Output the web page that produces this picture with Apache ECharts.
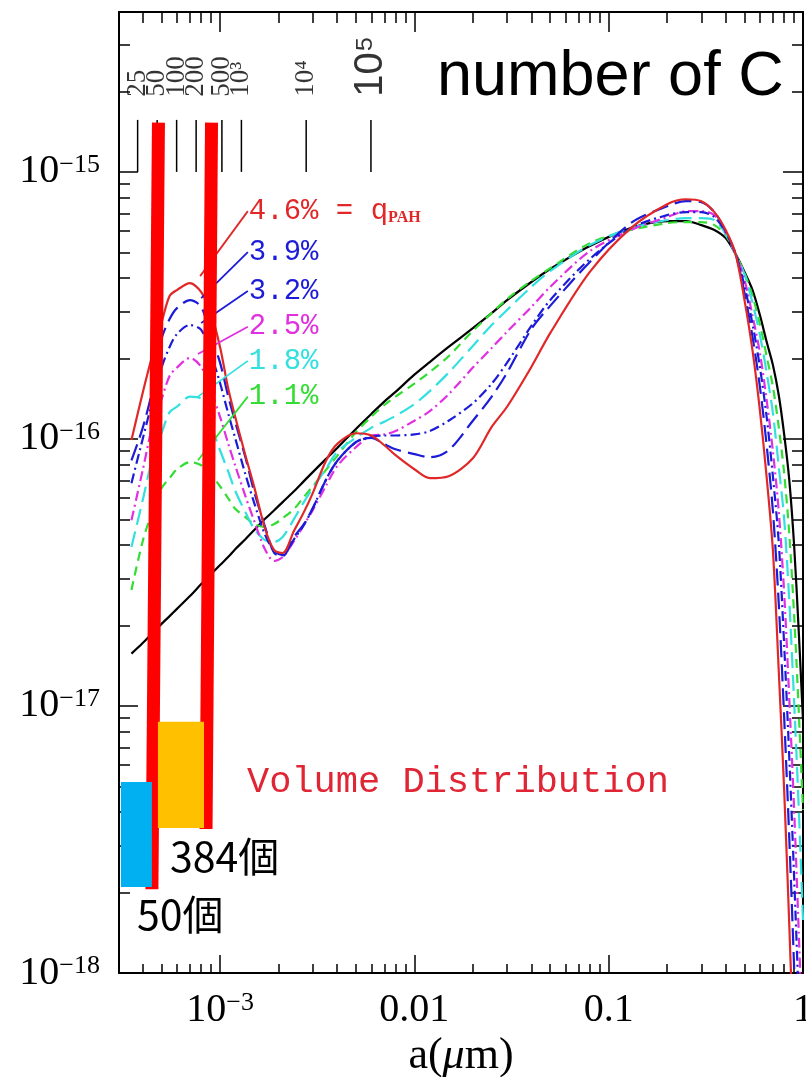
<!DOCTYPE html>
<html>
<head>
<meta charset="utf-8">
<title>Volume Distribution</title>
<script src="https://cdn.jsdelivr.net/npm/echarts@6/dist/echarts.min.js"></script>
<style>
  html, body { margin: 0; padding: 0; background: #fff; }
  #chart { width: 806px; height: 1077px; }
</style>
</head>
<body>
<div id="chart"></div>
<script>
// grain radius a (um), shared by every curve
const radius = [
  3.5e-4, 4e-4, 4.5e-4, 5e-4, 5.5e-4, 6e-4, 7e-4, 8e-4, 9e-4, 1e-3,
  1.1e-3, 1.2e-3, 1.35e-3, 1.5e-3, 1.7e-3, 1.9e-3, 2.1e-3, 2.4e-3, 2.7e-3, 3e-3,
  3.5e-3, 4e-3, 5e-3, 6e-3, 7e-3, 8e-3, 1e-2, 1.2e-2, 1.5e-2, 2e-2,
  2.5e-2, 3e-2, 4e-2, 5e-2, 8e-2, 0.13, 0.2, 0.25, 0.3, 0.35,
  0.4, 0.45, 0.5, 0.55, 0.6, 0.65, 0.7, 0.75, 0.8, 0.85,
  0.9, 0.95, 1.0
]

// volume distribution per q_PAH
const volNoPah = [
  1.57e-17, 1.72e-17, 1.88e-17, 2.03e-17, 2.17e-17, 2.31e-17, 2.58e-17, 2.86e-17, 3.12e-17, 3.37e-17,
  3.61e-17, 3.87e-17, 4.21e-17, 4.56e-17, 5.01e-17, 5.41e-17, 5.80e-17, 6.37e-17, 6.95e-17, 7.51e-17,
  8.40e-17, 9.23e-17, 1.09e-16, 1.24e-16, 1.38e-16, 1.50e-16, 1.74e-16, 1.94e-16, 2.21e-16, 2.60e-16,
  2.96e-16, 3.31e-16, 3.87e-16, 4.33e-16, 5.28e-16, 6.16e-16, 6.54e-16, 6.54e-16, 6.32e-16, 6.06e-16,
  5.65e-16, 4.92e-16, 4.22e-16, 3.61e-16, 2.91e-16, 2.31e-16, 1.89e-16, 1.46e-16, 1.04e-16, 7.01e-17,
  4.00e-17, 1.93e-17, 8.84e-18
]
const vol11 = [
  2.72e-17, 4.14e-17, 5.41e-17, 6.54e-17, 7.13e-17, 7.70e-17, 8.19e-17, 7.97e-17, 7.32e-17, 6.65e-17,
  6.00e-17, 5.46e-17, 5.10e-17, 4.80e-17, 4.68e-17, 4.80e-17, 5.05e-17, 5.46e-17, 6.06e-17, 6.65e-17,
  7.64e-17, 8.62e-17, 1.06e-16, 1.21e-16, 1.34e-16, 1.44e-16, 1.61e-16, 1.78e-16, 2.04e-16, 2.54e-16,
  2.96e-16, 3.34e-16, 3.91e-16, 4.36e-16, 5.41e-16, 6.06e-16, 6.43e-16, 6.49e-16, 6.49e-16, 6.32e-16,
  5.80e-16, 4.92e-16, 4.18e-16, 3.43e-16, 2.69e-16, 2.04e-16, 1.57e-16, 1.11e-16, 7.44e-17, 4.40e-17,
  2.19e-17, 9.72e-18, 4.08e-18
]
const vol18 = [
  3.94e-17, 5.90e-17, 8.54e-17, 1.05e-16, 1.26e-16, 1.32e-16, 1.44e-16, 1.41e-16, 1.12e-16, 9.07e-17,
  7.57e-17, 6.37e-17, 5.32e-17, 4.60e-17, 4.18e-17, 4.11e-17, 4.29e-17, 5.01e-17, 5.80e-17, 6.54e-17,
  7.70e-17, 8.92e-17, 1.01e-16, 1.10e-16, 1.16e-16, 1.22e-16, 1.35e-16, 1.51e-16, 1.77e-16, 2.23e-16,
  2.67e-16, 3.04e-16, 3.71e-16, 4.25e-16, 5.32e-16, 6.16e-16, 6.60e-16, 6.71e-16, 6.71e-16, 6.60e-16,
  5.85e-16, 4.92e-16, 4.14e-16, 3.23e-16, 2.45e-16, 1.77e-16, 1.25e-16, 7.90e-17, 5.01e-17, 2.47e-17,
  1.04e-17, 4.22e-18, 1.58e-18
]
const vol25 = [
  4.96e-17, 7.64e-17, 1.13e-16, 1.41e-16, 1.72e-16, 1.85e-16, 2.01e-16, 1.86e-16, 1.51e-16, 1.21e-16,
  9.64e-17, 7.90e-17, 6.11e-17, 4.92e-17, 3.87e-17, 3.49e-17, 3.61e-17, 4.14e-17, 4.76e-17, 5.41e-17,
  6.65e-17, 7.90e-17, 9.31e-17, 1.03e-16, 1.04e-16, 1.07e-16, 1.17e-16, 1.27e-16, 1.47e-16, 1.85e-16,
  2.19e-16, 2.52e-16, 3.12e-16, 3.71e-16, 5.05e-16, 6.06e-16, 6.77e-16, 7.13e-16, 7.13e-16, 6.89e-16,
  5.95e-16, 4.92e-16, 3.94e-16, 2.89e-16, 2.10e-16, 1.40e-16, 8.99e-17, 5.37e-17, 2.65e-17, 1.06e-17,
  4.11e-18, 1.45e-18, 5.1e-19
]
const vol32 = [
  6.83e-17, 1.00e-16, 1.40e-16, 1.85e-16, 2.21e-16, 2.47e-16, 2.67e-16, 2.56e-16, 2.06e-16, 1.62e-16,
  1.25e-16, 1.00e-16, 7.38e-17, 5.75e-17, 4.40e-17, 3.80e-17, 3.67e-17, 4.21e-17, 4.76e-17, 5.50e-17,
  7.01e-17, 8.25e-17, 9.72e-17, 1.02e-16, 1.03e-16, 1.03e-16, 1.04e-16, 1.07e-16, 1.17e-16, 1.36e-16,
  1.61e-16, 1.93e-16, 2.65e-16, 3.31e-16, 4.72e-16, 6.16e-16, 6.89e-16, 7.07e-16, 7.07e-16, 6.77e-16,
  5.95e-16, 4.92e-16, 3.74e-16, 2.69e-16, 1.86e-16, 1.21e-16, 7.25e-17, 4.11e-17, 1.69e-17, 6.43e-18,
  2.29e-18, 7.9e-19, 2.2e-19
]
const vol39 = [
  8.32e-17, 1.10e-16, 1.54e-16, 2.37e-16, 2.81e-16, 3.09e-16, 3.31e-16, 3.12e-16, 2.41e-16, 1.93e-16,
  1.45e-16, 1.15e-16, 8.54e-17, 6.32e-17, 4.72e-17, 3.74e-17, 3.64e-17, 4.29e-17, 4.80e-17, 5.50e-17,
  7.01e-17, 8.25e-17, 9.72e-17, 1.01e-16, 9.56e-17, 9.15e-17, 8.77e-17, 8.54e-17, 9.07e-17, 1.17e-16,
  1.44e-16, 1.77e-16, 2.58e-16, 3.15e-16, 4.60e-16, 6.43e-16, 7.44e-16, 7.77e-16, 7.70e-16, 7.07e-16,
  6.00e-16, 4.92e-16, 3.52e-16, 2.41e-16, 1.57e-16, 9.47e-17, 5.37e-17, 2.43e-17, 9.07e-18, 3.20e-18,
  1.05e-18, 3.3e-19, 1.5e-19
]
const vol46 = [
  9.9e-17, 1.49e-16, 2.08e-16, 2.72e-16, 3.43e-16, 3.61e-16, 3.83e-16, 3.55e-16, 2.94e-16, 2.21e-16,
  1.55e-16, 1.20e-16, 8.69e-17, 6.60e-17, 4.64e-17, 3.83e-17, 3.74e-17, 4.52e-17, 5.32e-17, 6.27e-17,
  8.25e-17, 9.56e-17, 1.05e-16, 1.03e-16, 9.47e-17, 8.69e-17, 7.70e-17, 7.13e-17, 7.25e-17, 8.47e-17,
  1.11e-16, 1.32e-16, 1.86e-16, 2.49e-16, 4.22e-16, 6.16e-16, 7.57e-16, 7.90e-16, 7.77e-16, 7.07e-16,
  6.06e-16, 4.92e-16, 3.31e-16, 2.14e-16, 1.28e-16, 7.19e-17, 3.83e-17, 1.36e-17, 4.84e-18, 1.51e-18,
  4.7e-19, 2e-19, 1e-19
]

// q_PAH labels and their leader lines (start on curve, end at label)
const qLabels = ['4.6%', '3.9%', '3.2%', '2.5%', '1.8%', '1.1%']
const leaderStart = [[7.9e-4, 4.07e-16], [8.0e-4, 3.37e-16], [8.0e-4, 2.72e-16], [7.7e-4, 2.08e-16], [7.7e-4, 1.44e-16], [7.7e-4, 8.32e-17]]
const leaderEnd = [[1.39e-3, 7.13e-16], [1.39e-3, 5.01e-16], [1.39e-3, 3.58e-16], [1.39e-3, 2.63e-16], [1.39e-3, 1.96e-16], [1.39e-3, 1.44e-16]]

// number of carbon atoms scale at the top
const carbonN = [25, 50, 100, 200, 500, 1000, 1e4, 1e5]
const carbonLabels = ['25', '50', '100', '200', '500', '10³', '10⁴', '10⁵']

// thick red markers (50 and 384 C atoms) and the two boxes
const marker50 = [[4.82e-4, 1.53e-15], [4.46e-4, 2.06e-18]]
const marker384 = [[9.04e-4, 1.53e-15], [8.47e-4, 3.46e-18]]
const boxes = [[3.09e-4, 5.19e-18, 4.46e-4, 2.10e-18], [4.79e-4, 8.72e-18, 8.27e-4, 3.49e-18]]

const xMin = 3.02e-4, xMax = 1
const yMin = 1e-18, yMax = 3.97e-15
const xMajor = [1e-3, 1e-2, 0.1, 1]
const yMajor = [1e-18, 1e-17, 1e-16, 1e-15]

const minorsOf = (decades) => {
  const out = []
  decades.forEach(d => { for (let m = 2; m <= 9; m++) out.push(m * d) })
  return out
}
const xMinor = minorsOf([1e-4, 1e-3, 1e-2, 0.1]).filter(v => v > xMin && v < xMax)
const yMinor = minorsOf([1e-18, 1e-17, 1e-16, 1e-15]).filter(v => v < yMax)

// PAH radius for N carbon atoms
const carbonRadius = n => 1e-3 * Math.cbrt(n / 468)

const serif = 'Liberation Serif'
const mono = 'Liberation Mono'
const colors = {
  black: '#000000', green: '#33dd33', cyan: '#33e0e0', magenta: '#e030e0',
  blue: '#1c1cd8', red: '#e02828'
}
const qColors = [colors.red, colors.blue, colors.blue, colors.magenta, colors.cyan, colors.green]

const powRich = {
  b: { fontFamily: serif, fontSize: 40, color: '#000', lineHeight: 40 },
  s: { fontFamily: serif, fontSize: 26, color: '#000', lineHeight: 26, verticalAlign: 'top' }
}
const powLabel = v => {
  const e = Math.round(Math.log10(v))
  return '{b|10}{s|\u2212' + (-e) + '}'
}

const logAxis = (position, min, max, ticks, len, extra) => Object.assign({
  type: 'log',
  logBase: 10,
  position,
  min,
  max,
  axisLine: { show: true, lineStyle: { color: '#000', width: 2 } },
  axisTick: { show: true, inside: true, length: len, customValues: ticks, lineStyle: { color: '#000', width: 1.5 } },
  axisLabel: { show: false },
  splitLine: { show: false },
  minorTick: { show: false }
}, extra || {})

const curve = (vals, color, type, z) => ({
  type: 'line',
  data: radius.map((a, i) => [a, vals[i]]),
  showSymbol: false,
  smooth: 0.3,
  clip: true,
  z,
  lineStyle: { color, width: 2.2, type },
  silent: true
})

const chart = echarts.init(document.getElementById('chart'))

chart.setOption({
  animation: false,
  backgroundColor: '#fff',
  grid: { left: 119, right: 3, top: 12, bottom: 104, outerBoundsMode: 'none', containLabel: false },
  xAxis: [
    logAxis('bottom', xMin, xMax, xMajor, 18, {
      axisLabel: {
        show: true,
        customValues: xMajor,
        margin: 17,
        rich: powRich,
        formatter: v => v < 0.005 ? powLabel(v) : '{b|' + (v >= 1 ? '1' : String(v)) + '}'
      },
      name: '{n|a(}{i|\u03bc}{n|m)}',
      nameLocation: 'middle',
      nameGap: 57,
      nameTextStyle: {
        rich: {
          n: { fontFamily: serif, fontSize: 44, color: '#000' },
          i: { fontFamily: serif, fontSize: 44, fontStyle: 'italic', color: '#000' }
        }
      }
    }),
    logAxis('bottom', xMin, xMax, xMinor, 9, { axisLine: { show: false } }),
    logAxis('top', xMin, xMax, xMajor, 20),
    logAxis('top', xMin, xMax, xMinor, 11, { axisLine: { show: false } })
  ],
  yAxis: [
    logAxis('left', yMin, yMax, yMajor, 19, {
      axisLabel: {
        show: true,
        customValues: yMajor,
        margin: 19,
        rich: powRich,
        formatter: powLabel
      }
    }),
    logAxis('left', yMin, yMax, yMinor, 11, { axisLine: { show: false } }),
    logAxis('right', yMin, yMax, yMajor, 20),
    logAxis('right', yMin, yMax, yMinor, 11, { axisLine: { show: false } })
  ],
  series: [
    curve(volNoPah, colors.black, 'solid', 2),
    curve(vol11, colors.green, [9, 6], 2),
    curve(vol18, colors.cyan, [16, 7], 2),
    curve(vol25, colors.magenta, [10, 4, 2, 4], 2),
    curve(vol32, colors.blue, [10, 4, 2, 4], 2),
    curve(vol39, colors.blue, [17, 7], 2),
    curve(vol46, colors.red, 'solid', 3),
    // leader lines + q_PAH labels
    ...qLabels.map((txt, i) => ({
      type: 'line',
      z: 3,
      silent: true,
      showSymbol: false,
      symbol: 'none',
      lineStyle: { color: qColors[i], width: 1.8 },
      data: [leaderStart[i], leaderEnd[i]],
      endLabel: {
        show: true,
        distance: 1,
        formatter: i === 0 ? '{t|' + txt + ' = q}{p|PAH}' : '{t|' + txt + '}',
        rich: {
          t: { fontFamily: mono, fontSize: 29, color: qColors[i], lineHeight: 30 },
          p: { fontFamily: serif, fontSize: 16, fontWeight: 'bold', color: qColors[i], lineHeight: 18, verticalAlign: 'bottom' }
        }
      }
    })),
    // carbon-number ticks
    {
      type: 'custom',
      z: 3,
      silent: true,
      data: carbonN.map(n => [carbonRadius(n)]),
      renderItem: (params, api) => {
        const p1 = api.coord([api.value(0), 1e-15])
        const p2 = api.coord([api.value(0), 1.566e-15])
        return {
          type: 'line',
          shape: { x1: p1[0], y1: p1[1], x2: p2[0], y2: p2[1] },
          style: { stroke: '#000', lineWidth: 1.5 }
        }
      }
    },
    // carbon-number labels
    {
      type: 'scatter',
      z: 3,
      silent: true,
      symbolSize: 0,
      data: carbonN.map((n, i) => ({
        value: [carbonRadius(n), 1.91e-15],
        label: i === 7
          ? { fontFamily: 'Liberation Sans', fontSize: 40 }
          : {}
      })),
      label: {
        show: true,
        position: 'inside',
        rotate: 90,
        align: 'left',
        verticalAlign: 'middle',
        color: '#000',
        fontFamily: serif,
        fontSize: 27,
        formatter: p => carbonLabels[p.dataIndex]
      }
    },
    // red markers
    ...[marker50, marker384].map(m => ({
      type: 'line',
      z: 4,
      silent: true,
      showSymbol: false,
      symbol: 'none',
      lineStyle: { color: '#ff0000', width: 13, cap: 'butt' },
      data: m
    })),
    // coloured boxes
    {
      type: 'custom',
      z: 5,
      silent: true,
      data: boxes,
      renderItem: (params, api) => {
        const p1 = api.coord([api.value(0), api.value(1)])
        const p2 = api.coord([api.value(2), api.value(3)])
        return {
          type: 'rect',
          shape: {
            x: Math.min(p1[0], p2[0]),
            y: Math.min(p1[1], p2[1]),
            width: Math.abs(p2[0] - p1[0]),
            height: Math.abs(p2[1] - p1[1])
          },
          style: { fill: params.dataIndex === 0 ? '#00b0f0' : '#ffc000' }
        }
      }
    }
  ],
  graphic: [
    {
      type: 'text', left: 437, top: 46, z: 100,
      style: { text: 'number of C', fontFamily: 'Liberation Sans', fontSize: 63, fill: '#000' }
    },
    {
      type: 'text', left: 247, top: 764, z: 100,
      style: { text: 'Volume Distribution', fontFamily: mono, fontSize: 37, fill: '#e02535' }
    },
    {
      type: 'text', left: 170, top: 836, z: 100,
      style: { text: '384個', fontFamily: 'Noto Sans CJK JP', fontSize: 41, fill: '#000' }
    },
    {
      type: 'text', left: 137, top: 894, z: 100,
      style: { text: '50個', fontFamily: 'Noto Sans CJK JP', fontSize: 41, fill: '#000' }
    }
  ]
})
</script>
</body>
</html>
